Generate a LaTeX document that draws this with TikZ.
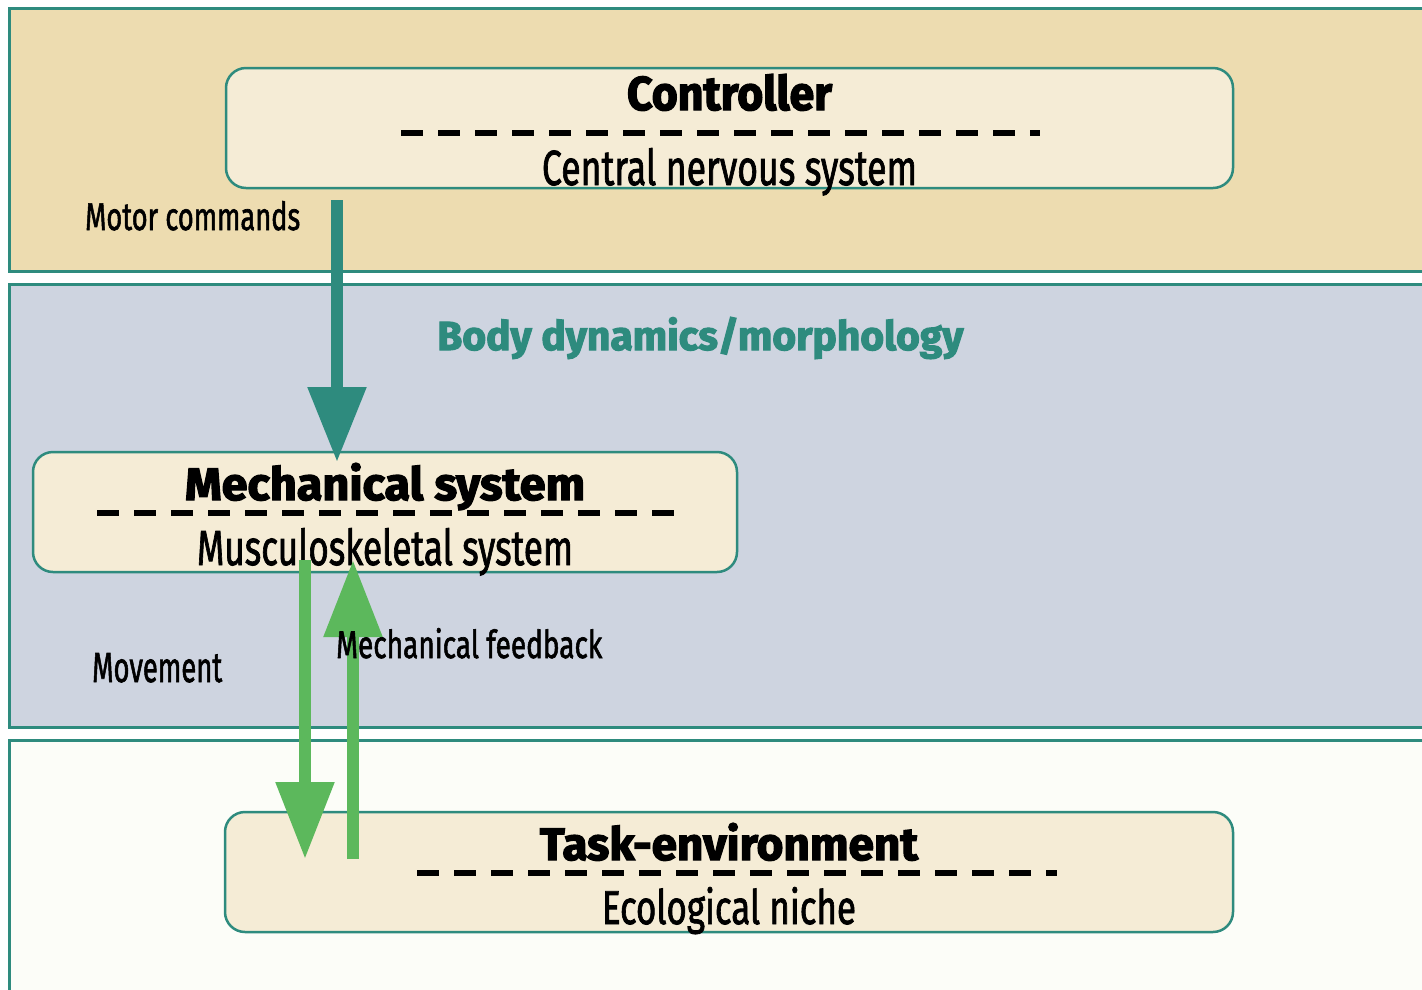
\documentclass[tikz,border=0pt]{standalone}
\usepackage{fontspec}
\usepackage{graphicx}
\usetikzlibrary{arrows.meta}
\setmainfont{Fira Sans}
\newfontfamily\lblfont{Fira Sans}[FakeBold=1.8]
\newfontfamily\ttlfont{Fira Sans}[FakeBold=2.8]

\definecolor{tealline}{HTML}{2E8B7E}
\definecolor{bandtop}{HTML}{EDDCB0}
\definecolor{bandmid}{HTML}{CED4E0}
\definecolor{bandlow}{HTML}{FCFDF8}
\definecolor{boxfill}{HTML}{F5ECD6}
\definecolor{arrowgreen}{HTML}{5CB85C}

% text squeezed to a given width (#1) and ascent (#2)
\newcommand\sizedtext[3]{\resizebox{#1pt}{#2pt}{#3}}

\tikzset{
  band/.style={draw=tealline, line width=3pt},
  layerbox/.style={draw=tealline, line width=2.5pt, fill=boxfill,
    rounded corners=20pt, inner sep=0pt},
  txt/.style={inner sep=0pt, anchor=base},
  txtw/.style={inner sep=0pt, anchor=base west},
  divider/.style={line width=5.5pt, dash pattern=on 22pt off 15pt},
  tealarrow/.style={draw=tealline, line width=12pt,
    -{Triangle[length=75pt, width=56pt]}},
  greenarrow/.style={draw=arrowgreen, line width=12pt,
    -{Triangle[length=77pt, width=56pt]}},
}

\begin{document}
\begin{tikzpicture}[x=1pt, y=-1pt]
\useasboundingbox (0,0) rectangle (1422,989);
\clip (0,0) rectangle (1422,989);
\fill[white] (0,0) rectangle (1422,989);

% layer bands
\filldraw[band, fill=bandtop] (9,8) rectangle (1440,271);
\filldraw[band, fill=bandmid] (9,284) rectangle (1440,727);
\filldraw[band, fill=bandlow] (9,740) rectangle (1440,1010);

% layer boxes
\node[layerbox, minimum width=1007pt, minimum height=120pt] (ctrl) at (729.5,128) {};
\node[layerbox, minimum width=704pt, minimum height=120pt] (mech) at (385,512) {};
\node[layerbox, minimum width=1008pt, minimum height=120pt] (task) at (729,872) {};

% box contents
\node[txt] (ctrl-title) at (729.5,110) {\sizedtext{205}{36}{\ttlfont\bfseries Controller}};
\draw[divider] (401,133) -- (1040,133);
\node[txt] (ctrl-sub) at (729.5,185) {\sizedtext{375}{37}{\lblfont Central nervous system}};

\node[txt] (mech-title) at (385,500) {\sizedtext{400}{37}{\ttlfont\bfseries Mechanical system}};
\draw[divider] (97,513) -- (675,513);
\node[txt] (mech-sub) at (385,565) {\sizedtext{376}{37}{\lblfont Musculoskeletal system}};

\node[txt] (task-title) at (729,860) {\sizedtext{378}{37}{\ttlfont\bfseries Task-environment}};
\draw[divider] (417,873) -- (1057,873);
\node[txt] (task-sub) at (729,924) {\sizedtext{254}{37}{\lblfont Ecological niche}};

% band heading
\node[txtw] (body) at (437,350) {\sizedtext{526}{33}{\ttlfont\bfseries\color{tealline}Body dynamics/morphology}};

% connectors
\coordinate (cmd-from) at (337,200);
\coordinate (cmd-to) at (337,462);
\draw[tealarrow] (cmd-from) -- (cmd-to);

\coordinate (mov-from) at (305,560);
\coordinate (mov-to) at (305,859);
\draw[greenarrow] (mov-from) -- (mov-to);

\coordinate (fb-from) at (353,859);
\coordinate (fb-to) at (353,560);
\draw[greenarrow] (fb-from) -- (fb-to);

% connector labels
\node[txtw] (cmd-lbl) at (85,230) {\sizedtext{215}{29}{\lblfont Motor commands}};
\node[txtw] (mov-lbl) at (92,682) {\sizedtext{130}{29}{\lblfont Movement}};
\node[txtw] (fb-lbl) at (336,658) {\sizedtext{266}{30}{\lblfont Mechanical feedback}};
\end{tikzpicture}
\end{document}
